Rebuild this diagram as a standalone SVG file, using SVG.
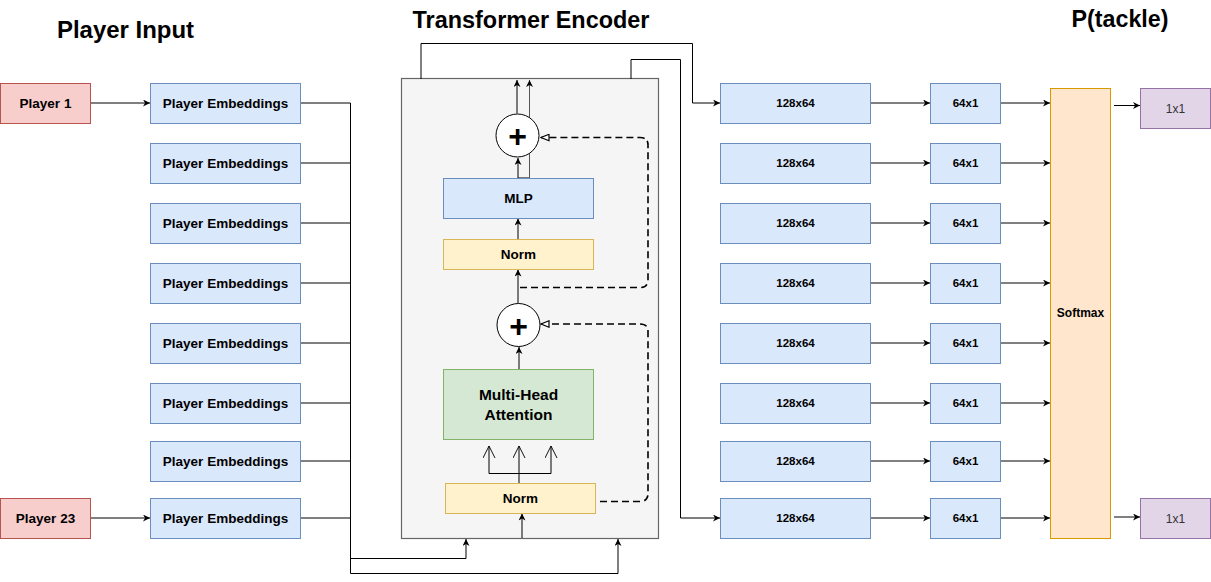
<svg xmlns="http://www.w3.org/2000/svg" width="1211" height="582" viewBox="0 0 1211 582">
<defs>
<style>
.t{font-family:"Liberation Sans",Arial,sans-serif;fill:#000;text-anchor:middle}
.title{font-size:23px;font-weight:bold}
.lbl{font-size:13.5px;font-weight:bold}
.sm{font-size:11.5px;font-weight:bold}
.player{fill:#f8cecc;stroke:#b85450;stroke-width:1}
.blue{fill:#dae8fc;stroke:#6c8ebf;stroke-width:1}
.norm{fill:#fff2cc;stroke:#d6b656;stroke-width:1}
.green{fill:#d5e8d4;stroke:#82b366;stroke-width:1}
.soft{fill:#ffe6cc;stroke:#d79b00;stroke-width:1}
.out{fill:#e1d5e7;stroke:#9673a6;stroke-width:1}
.ln{fill:none;stroke:#000;stroke-width:1}
.arr{fill:none;stroke:#000;stroke-width:1;marker-end:url(#ah)}
.dash{fill:none;stroke:#000;stroke-width:1.6;stroke-dasharray:7 4;marker-end:url(#tri)}
</style>
<marker id="ah" viewBox="0 0 10 10" refX="10" refY="5" markerWidth="7" markerHeight="7" markerUnits="userSpaceOnUse" orient="auto">
<path d="M0,0 L10,5 L0,10 L3,5 z" fill="#000"/>
</marker>
<marker id="tri" viewBox="0 0 12 10" refX="11" refY="5" markerWidth="10" markerHeight="8" markerUnits="userSpaceOnUse" orient="auto">
<path d="M1,1 L11,5 L1,9 z" fill="#fff" stroke="#000" stroke-width="1.5"/>
</marker>
<marker id="vee" viewBox="0 0 14 14" refX="13" refY="7" markerWidth="13" markerHeight="13" markerUnits="userSpaceOnUse" orient="auto">
<path d="M0,0.5 L13,7 L0,13.5" fill="none" stroke="#000" stroke-width="1"/>
</marker>
</defs>

<g id="titles">
<text class="t title" x="125.5" y="37.5" textLength="137" lengthAdjust="spacingAndGlyphs">Player Input</text>
<text class="t title" x="531" y="27.5" textLength="237" lengthAdjust="spacingAndGlyphs">Transformer Encoder</text>
<text class="t title" x="1120" y="27" textLength="97" lengthAdjust="spacingAndGlyphs">P(tackle)</text>
</g>

<g id="encoder">
<rect x="401.5" y="78.5" width="257" height="460" fill="#f5f5f5" stroke="#666666" stroke-width="1.2"/>
</g>

<g id="connectors">
<line class="arr" x1="91" y1="103" x2="150" y2="103"/>
<line class="arr" x1="91" y1="518" x2="150" y2="518"/>
<path class="ln" d="M300,103 H350.5 M300,163 H350.5 M300,223 H350.5 M300,283 H350.5 M300,343 H350.5 M300,403 H350.5 M300,461 H350.5 M300,518 H350.5"/>
<path class="ln" d="M350.5,103 V573.5"/>
<path class="arr" d="M350.5,558.5 H466 V539"/>
<path class="arr" d="M350.5,573.5 H618 V539"/>
<path class="arr" d="M421,79 V43.5 H692.5 V103 H720"/>
<path class="arr" d="M631,79 V59.5 H680.5 V518 H720"/>
<line class="arr" x1="522" y1="538" x2="522" y2="513.5"/>
<path class="ln" d="M519,483 V473.5 M489,473.5 H551"/>
<path fill="none" stroke="#000" stroke-width="1" marker-end="url(#vee)" d="M489,473.5 V446"/>
<path fill="none" stroke="#000" stroke-width="1" marker-end="url(#vee)" d="M519,473.5 V446"/>
<path fill="none" stroke="#000" stroke-width="1" marker-end="url(#vee)" d="M551,473.5 V446"/>
<line class="arr" x1="519" y1="369" x2="519" y2="347"/>
<path class="dash" d="M600,501.5 H640 Q648,501.5 648,493.5 V331 Q648,324 640,324 H541"/>
<line class="arr" x1="518" y1="303" x2="518" y2="269.5"/>
<path class="dash" d="M520,287.5 H640 Q648,287.5 648,279.5 V145 Q648,137.5 640,137.5 H541"/>
<line class="arr" x1="518" y1="239" x2="518" y2="218.5"/>
<line class="arr" x1="518" y1="178" x2="518" y2="158"/>
<path class="ln" d="M518,178 H529.5" stroke="#555"/>
<path fill="none" stroke="#555" stroke-width="1" marker-end="url(#ah)" d="M529.5,178 V80"/>
<line class="arr" x1="517" y1="113.5" x2="517" y2="80"/>
<path class="arr" d="M870,103 H930"/>
<path class="arr" d="M870,163 H930"/>
<path class="arr" d="M870,223 H930"/>
<path class="arr" d="M870,283 H930"/>
<path class="arr" d="M870,343 H930"/>
<path class="arr" d="M870,403 H930"/>
<path class="arr" d="M870,461 H930"/>
<path class="arr" d="M870,518 H930"/>
<path class="arr" d="M1000,103 H1050"/>
<path class="arr" d="M1000,163 H1050"/>
<path class="arr" d="M1000,223 H1050"/>
<path class="arr" d="M1000,283 H1050"/>
<path class="arr" d="M1000,343 H1050"/>
<path class="arr" d="M1000,403 H1050"/>
<path class="arr" d="M1000,461 H1050"/>
<path class="arr" d="M1000,518 H1050"/>
<path class="arr" d="M1114,105.5 H1140"/>
<path class="arr" d="M1114,517 H1140"/>
</g>

<g id="player1"><rect class="player" x="0.5" y="83.5" width="90" height="40"/><text class="t lbl" x="45.5" y="108">Player 1</text></g>
<g id="player23"><rect class="player" x="0.5" y="498.5" width="90" height="40"/><text class="t lbl" x="45.5" y="523">Player 23</text></g>

<g id="emb1"><rect class="blue" x="150.5" y="83.5" width="150" height="40"/><text class="t lbl" x="225.5" y="108">Player Embeddings</text></g>
<g id="emb2"><rect class="blue" x="150.5" y="143.5" width="150" height="40"/><text class="t lbl" x="225.5" y="168">Player Embeddings</text></g>
<g id="emb3"><rect class="blue" x="150.5" y="203.5" width="150" height="40"/><text class="t lbl" x="225.5" y="228">Player Embeddings</text></g>
<g id="emb4"><rect class="blue" x="150.5" y="263.5" width="150" height="40"/><text class="t lbl" x="225.5" y="288">Player Embeddings</text></g>
<g id="emb5"><rect class="blue" x="150.5" y="323.5" width="150" height="40"/><text class="t lbl" x="225.5" y="348">Player Embeddings</text></g>
<g id="emb6"><rect class="blue" x="150.5" y="383.5" width="150" height="40"/><text class="t lbl" x="225.5" y="408">Player Embeddings</text></g>
<g id="emb7"><rect class="blue" x="150.5" y="441.5" width="150" height="40"/><text class="t lbl" x="225.5" y="466">Player Embeddings</text></g>
<g id="emb8"><rect class="blue" x="150.5" y="498.5" width="150" height="40"/><text class="t lbl" x="225.5" y="523">Player Embeddings</text></g>

<g id="norm1"><rect class="norm" x="445.5" y="483.5" width="150" height="30"/><text class="t lbl" x="520.5" y="503">Norm</text></g>
<g id="mha"><rect class="green" x="443.5" y="369.5" width="150" height="70"/><text class="t" x="518.5" y="400" style="font-size:15.5px;font-weight:bold">Multi-Head</text><text class="t" x="518.5" y="419.5" style="font-size:15.5px;font-weight:bold">Attention</text></g>
<g id="add1"><circle cx="518.5" cy="325" r="21.5" fill="#fff" stroke="#000" stroke-width="1"/><text class="t" x="518.5" y="336.5" style="font-size:32px;font-weight:bold">+</text></g>
<g id="norm2"><rect class="norm" x="443.5" y="239.5" width="150" height="30"/><text class="t lbl" x="518.5" y="259">Norm</text></g>
<g id="mlp"><rect class="blue" x="443.5" y="178.5" width="150" height="40"/><text class="t lbl" x="518.5" y="203">MLP</text></g>
<g id="add2"><circle cx="517.5" cy="135.5" r="21.5" fill="#fff" stroke="#000" stroke-width="1"/><text class="t" x="517.5" y="147" style="font-size:32px;font-weight:bold">+</text></g>

<g id="fc1"><rect class="blue" x="720.5" y="83.5" width="150" height="40"/><text class="t sm" x="795.5" y="107">128x64</text></g>
<g id="fc2"><rect class="blue" x="720.5" y="143.5" width="150" height="40"/><text class="t sm" x="795.5" y="167">128x64</text></g>
<g id="fc3"><rect class="blue" x="720.5" y="203.5" width="150" height="40"/><text class="t sm" x="795.5" y="227">128x64</text></g>
<g id="fc4"><rect class="blue" x="720.5" y="263.5" width="150" height="40"/><text class="t sm" x="795.5" y="287">128x64</text></g>
<g id="fc5"><rect class="blue" x="720.5" y="323.5" width="150" height="40"/><text class="t sm" x="795.5" y="347">128x64</text></g>
<g id="fc6"><rect class="blue" x="720.5" y="383.5" width="150" height="40"/><text class="t sm" x="795.5" y="407">128x64</text></g>
<g id="fc7"><rect class="blue" x="720.5" y="441.5" width="150" height="40"/><text class="t sm" x="795.5" y="465">128x64</text></g>
<g id="fc8"><rect class="blue" x="720.5" y="498.5" width="150" height="40"/><text class="t sm" x="795.5" y="522">128x64</text></g>

<g id="o1"><rect class="blue" x="930.5" y="83.5" width="70" height="40"/><text class="t sm" x="965.5" y="107">64x1</text></g>
<g id="o2"><rect class="blue" x="930.5" y="143.5" width="70" height="40"/><text class="t sm" x="965.5" y="167">64x1</text></g>
<g id="o3"><rect class="blue" x="930.5" y="203.5" width="70" height="40"/><text class="t sm" x="965.5" y="227">64x1</text></g>
<g id="o4"><rect class="blue" x="930.5" y="263.5" width="70" height="40"/><text class="t sm" x="965.5" y="287">64x1</text></g>
<g id="o5"><rect class="blue" x="930.5" y="323.5" width="70" height="40"/><text class="t sm" x="965.5" y="347">64x1</text></g>
<g id="o6"><rect class="blue" x="930.5" y="383.5" width="70" height="40"/><text class="t sm" x="965.5" y="407">64x1</text></g>
<g id="o7"><rect class="blue" x="930.5" y="441.5" width="70" height="40"/><text class="t sm" x="965.5" y="465">64x1</text></g>
<g id="o8"><rect class="blue" x="930.5" y="498.5" width="70" height="40"/><text class="t sm" x="965.5" y="522">64x1</text></g>

<g id="softmax"><rect class="soft" x="1050.5" y="88.5" width="60" height="450"/><text class="t" x="1080.5" y="317" style="font-size:12px;font-weight:bold">Softmax</text></g>

<g id="out1"><rect class="out" x="1140.5" y="88.5" width="70" height="40"/><text class="t" x="1175.5" y="112.5" style="font-size:12px;fill:#333">1x1</text></g>
<g id="out2"><rect class="out" x="1140.5" y="498.5" width="70" height="40"/><text class="t" x="1175.5" y="522.5" style="font-size:12px;fill:#333">1x1</text></g>
</svg>
